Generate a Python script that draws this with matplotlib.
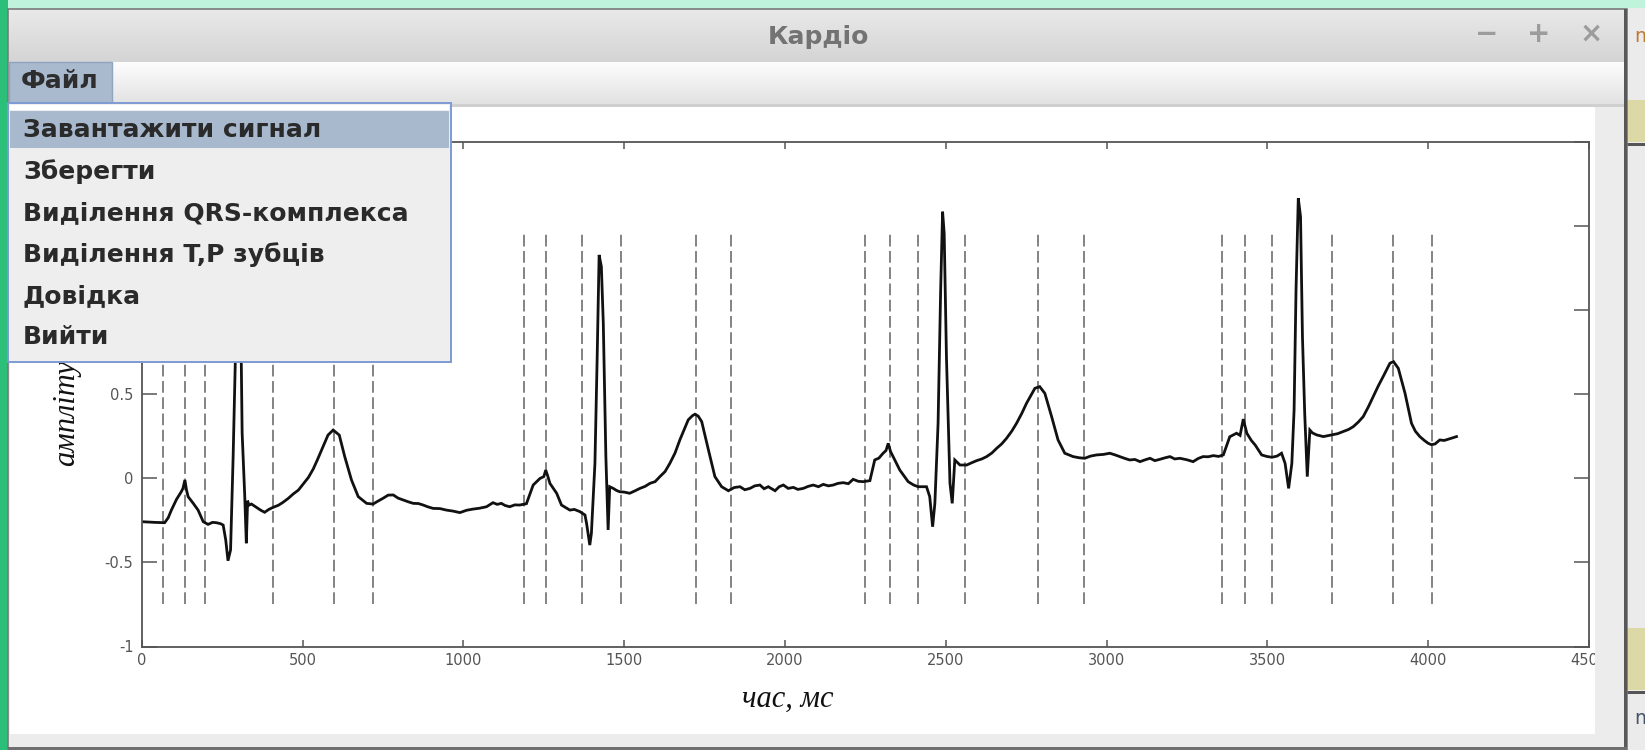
import numpy as np
import matplotlib
matplotlib.use("Agg")
import matplotlib.pyplot as plt
from matplotlib.patches import Rectangle
from matplotlib.colors import LinearSegmentedColormap

# ECG record, time in ms and amplitude
time_ms = [0, 40, 71, 82, 92, 108, 123, 128, 134, 139, 144, 160, 175, 191, 206, 220, 232, 245,
           253, 261, 268, 276, 284, 292, 300, 306, 312, 320, 325, 329, 333, 341, 357, 370, 382,
           395, 408, 425, 439, 455, 471, 487, 502, 518, 533, 546, 559, 579, 595, 614, 631, 652,
           673, 699, 719, 735, 750, 766, 782, 797, 813, 829, 844, 860, 875, 890, 906, 927, 947,
           968, 989, 1010, 1030, 1050, 1072, 1092, 1105, 1118, 1130, 1144, 1160, 1175, 1196, 1217,
           1238, 1250, 1256, 1262, 1269, 1290, 1305, 1331, 1345, 1362, 1378, 1383, 1393, 1398,
           1409, 1416, 1422, 1429, 1435, 1443, 1450, 1455, 1466, 1476, 1486, 1500, 1517, 1533,
           1549, 1565, 1580, 1596, 1611, 1627, 1642, 1658, 1673, 1699, 1712, 1720, 1730, 1741,
           1762, 1782, 1803, 1824, 1842, 1860, 1875, 1891, 1906, 1922, 1935, 1948, 1969, 1982,
           1995, 2010, 2026, 2040, 2057, 2072, 2088, 2104, 2119, 2135, 2150, 2165, 2181, 2197,
           2212, 2228, 2243, 2264, 2279, 2292, 2305, 2314, 2321, 2328, 2336, 2357, 2383, 2400,
           2414, 2440, 2450, 2459, 2466, 2476, 2484, 2490, 2495, 2502, 2513, 2520, 2528, 2544,
           2565, 2580, 2596, 2612, 2627, 2643, 2658, 2674, 2689, 2705, 2720, 2736, 2751, 2777,
           2792, 2808, 2829, 2849, 2870, 2896, 2915, 2932, 2950, 2969, 2990, 3010, 3025, 3041,
           3057, 3072, 3088, 3104, 3120, 3135, 3150, 3166, 3182, 3197, 3212, 3228, 3250, 3269,
           3285, 3300, 3316, 3332, 3348, 3363, 3383, 3404, 3415, 3425, 3436, 3450, 3462, 3482,
           3498, 3514, 3530, 3544, 3555, 3566, 3576, 3583, 3589, 3596, 3603, 3609, 3616, 3624,
           3632, 3640, 3653, 3674, 3700, 3718, 3736, 3752, 3767, 3783, 3798, 3814, 3829, 3845,
           3860, 3881, 3892, 3907, 3928, 3948, 3960, 3974, 3988, 4000, 4010, 4021, 4036, 4050,
           4062, 4075, 4088]
amp_mv = [-0.258, -0.262, -0.264, -0.235, -0.189, -0.125, -0.079, -0.060, -0.010, -0.070, -0.109,
          -0.149, -0.189, -0.258, -0.274, -0.262, -0.264, -0.270, -0.278, -0.367, -0.490, -0.426,
          0.129, 0.800, 1.300, 1.220, 0.270, -0.100, -0.386, -0.133, -0.160, -0.153, -0.173,
          -0.190, -0.202, -0.185, -0.173, -0.160, -0.143, -0.120, -0.093, -0.070, -0.034, 0.005,
          0.055, 0.110, 0.168, 0.257, 0.287, 0.257, 0.129, -0.010, -0.109, -0.149, -0.153, -0.135,
          -0.119, -0.100, -0.099, -0.118, -0.129, -0.140, -0.149, -0.150, -0.159, -0.170, -0.179,
          -0.180, -0.189, -0.195, -0.204, -0.190, -0.183, -0.178, -0.169, -0.145, -0.155, -0.149,
          -0.162, -0.169, -0.158, -0.159, -0.151, -0.040, -0.001, 0.010, 0.049, 0.015, -0.030,
          -0.089, -0.159, -0.189, -0.185, -0.198, -0.218, -0.268, -0.397, -0.327, 0.089, 0.723,
          1.328, 1.258, 0.922, 0.129, -0.307, -0.050, -0.060, -0.072, -0.080, -0.082, -0.089,
          -0.075, -0.060, -0.048, -0.030, -0.020, 0.010, 0.040, 0.089, 0.150, 0.228, 0.347, 0.372,
          0.381, 0.370, 0.337, 0.168, 0.010, -0.050, -0.074, -0.055, -0.050, -0.068, -0.060,
          -0.045, -0.040, -0.062, -0.050, -0.074, -0.050, -0.040, -0.060, -0.054, -0.066, -0.060,
          -0.048, -0.040, -0.050, -0.036, -0.045, -0.040, -0.030, -0.026, -0.032, -0.006, -0.018,
          -0.020, -0.014, 0.109, 0.120, 0.149, 0.165, 0.208, 0.160, 0.129, 0.049, -0.020, -0.040,
          -0.050, -0.050, -0.109, -0.288, -0.149, 0.327, 1.120, 1.585, 1.456, 0.723, -0.030,
          -0.149, 0.109, 0.079, 0.079, 0.092, 0.105, 0.115, 0.129, 0.150, 0.178, 0.205, 0.238,
          0.280, 0.327, 0.385, 0.446, 0.535, 0.545, 0.505, 0.367, 0.228, 0.149, 0.129, 0.122,
          0.119, 0.132, 0.139, 0.142, 0.149, 0.140, 0.129, 0.118, 0.109, 0.112, 0.099, 0.110,
          0.119, 0.105, 0.113, 0.122, 0.129, 0.115, 0.119, 0.110, 0.099, 0.118, 0.129, 0.128,
          0.135, 0.130, 0.139, 0.247, 0.268, 0.255, 0.352, 0.268, 0.225, 0.198, 0.139, 0.130,
          0.125, 0.132, 0.149, 0.089, -0.060, 0.089, 0.406, 1.120, 1.665, 1.556, 0.842, 0.386,
          0.010, 0.287, 0.270, 0.258, 0.248, 0.258, 0.265, 0.278, 0.290, 0.307, 0.335, 0.367,
          0.425, 0.486, 0.550, 0.605, 0.684, 0.694, 0.654, 0.505, 0.327, 0.280, 0.248, 0.225,
          0.208, 0.200, 0.204, 0.228, 0.225, 0.232, 0.240, 0.248]

# detected wave boundaries (P and T), ms
marker_ms = [66, 134, 198, 408, 598, 719, 1189, 1256, 1370, 1489, 1723, 1831,
             2250, 2326, 2414, 2561, 2787, 2930, 3359, 3429, 3514, 3700, 3892, 4012]

x_ticks = [0, 500, 1000, 1500, 2000, 2500, 3000, 3500, 4000, 4500]
x_tick_labels = ['0', '500', '1000', '1500', '2000', '2500', '3000', '3500', '4000', '4500']
y_ticks = [-1, -0.5, 0, 0.5, 1, 1.5, 2]
# labels above 0.5 sit under the open menu
y_tick_labels = ['-1', '-0.5', '0', '0.5', '', '', '']

menu_items = ['Завантажити сигнал', 'Зберегти', 'Виділення QRS-комплекса',
              'Виділення T,P зубців', 'Довідка', 'Вийти']

W, H = 1645, 750
fig = plt.figure(figsize=(W / 100, H / 100), dpi=100)


def pixel_axes(z):
    a = fig.add_axes([0, 0, 1, 1], zorder=z)
    a.set_xlim(0, W)
    a.set_ylim(H, 0)
    a.axis('off')
    return a


def rect(a, x0, y0, x1, y1, fc, ec='none', lw=0, z=1):
    a.add_patch(Rectangle((x0, y0), x1 - x0, y1 - y0, facecolor=fc, edgecolor=ec,
                          linewidth=lw, zorder=z))


def gradient(a, x0, y0, x1, y1, c_top, c_bottom, z=1):
    cmap = LinearSegmentedColormap.from_list('g', [c_top, c_bottom])
    a.imshow(np.linspace(0, 1, 64).reshape(-1, 1), cmap=cmap, aspect='auto',
             extent=(x0, x1, y1, y0), zorder=z, interpolation='bilinear')


# window chrome
bg = pixel_axes(0)
rect(bg, 0, 0, W, H, '#bff3dc', z=0)
rect(bg, 0, 0, 8, H, '#2cbf79', z=1)
rect(bg, 1627, 0, W, H, '#ebebeb', z=1)
rect(bg, 1627, 0, W, 8, '#bff3dc', z=2)
rect(bg, 1627, 100, W, 142, '#dcd9a6', z=2)
rect(bg, 1627, 143, W, 146, '#555555', z=2)
rect(bg, 1627, 628, W, 690, '#dcd9a6', z=2)
rect(bg, 1627, 691, W, 694, '#555555', z=2)
bg.text(1634, 36, 'm', fontsize=14, color='#c07a30', va='center', ha='left', zorder=3)
bg.text(1634, 718, 'm', fontsize=14, color='#44556a', va='center', ha='left', zorder=3)
rect(bg, 8, 9, 1627, H, '#ececec', ec='#7a7a7a', lw=1.2, z=2)
gradient(bg, 9, 10, 1625, 62, '#e9e9e9', '#d4d4d4', z=3)
gradient(bg, 9, 62, 1625, 104, '#fdfdfd', '#e2e2e2', z=3)
rect(bg, 9, 104, 1625, 107, '#cfcfcf', z=4)
rect(bg, 10, 107, 1595, 734, 'white', z=4)
rect(bg, 1624, 9, 1627, H, '#585858', z=5)
rect(bg, 8, 747, 1627, H, '#6f6f6f', z=5)
bg.text(818, 37, 'Кардіо', family='DejaVu Sans', fontweight='bold', fontsize=18,
        color='#737373', ha='center', va='center', zorder=6)
for sym, bx in zip(['−', '+', '×'], [1487, 1539, 1591]):
    bg.text(bx, 34, sym, family='DejaVu Sans', fontweight='bold', fontsize=20,
            color='#9c9c9c', ha='center', va='center', zorder=6)
bg.set_xlim(0, W)
bg.set_ylim(H, 0)

# signal plot
ax = fig.add_axes([141.8 / W, 1 - 646.5 / H, 1447.2 / W, 504.6 / H], zorder=1)
ax.set_facecolor('white')
ax.vlines(marker_ms, -0.75, 1.47, colors='#7a7a7a', linewidth=1.3,
          linestyles=[(0, (6.5, 2.5))])
ax.plot(time_ms, amp_mv, color='#111111', linewidth=2.0, solid_joinstyle='miter')
ax.set_xlim(0, 4500)
ax.set_ylim(-1, 2)
ax.set_xticks(x_ticks)
ax.set_xticklabels(x_tick_labels)
ax.set_yticks(y_ticks)
ax.set_yticklabels(y_tick_labels)
ax.tick_params(direction='in', top=True, right=True, colors='#555555',
               labelcolor='#555555', labelsize=10.5, width=1.1)
ax.tick_params(axis='x', length=5, pad=5)
ax.tick_params(axis='y', length=10.5, pad=6)
for s in ax.spines.values():
    s.set_color('#555555')
    s.set_linewidth(1.3)
ax.set_xlabel('час, мс', family='Liberation Serif', style='italic', fontsize=22,
              color='#111111')
ax.set_ylabel('амплітуда', family='Liberation Serif', style='italic', fontsize=22,
              color='#111111')
ax.xaxis.set_label_coords((788 - 141.8) / 1447.2, (646.5 - 699) / 504.6)
ax.xaxis.label.set_va('center')
ax.yaxis.set_label_coords((67 - 141.8) / 1447.2, (646.5 - 398) / 504.6)
ax.yaxis.label.set_va('center')

# right panel and the open "Файл" menu on top of the plot
top = pixel_axes(2)
rect(top, 1595, 107, 1624, 734, '#ececec', z=1)
rect(top, 10, 734, 1624, 747, '#ececec', z=1)
rect(top, 9, 62, 112, 103, '#a9bace', ec='#8fa4bf', lw=1.0, z=2)
top.text(60, 81, 'Файл', family='DejaVu Sans', fontweight='bold', fontsize=18,
         color='#2e2e2e', ha='center', va='center', zorder=3)
rect(top, 8, 103, 451, 362, '#eeeeee', ec='#7d9ad3', lw=1.4, z=2)
rect(top, 10, 105, 449, 110, 'white', z=3)
rect(top, 10, 111, 449, 148, '#a8b9cd', z=3)
for i, item in enumerate(menu_items):
    top.text(23, 130 + i * 41.5, item, family='DejaVu Sans', fontweight='bold',
             fontsize=18, color='#2a2a2a', ha='left', va='center', zorder=4)
top.set_xlim(0, W)
top.set_ylim(H, 0)

fig.savefig('out.png', dpi=100)
